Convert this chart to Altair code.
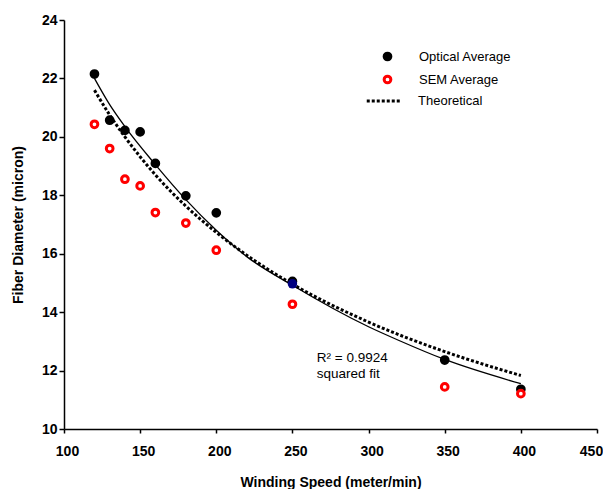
import altair as alt
import pandas as pd

# ---- data ----
speed = [120, 130, 140, 150, 160, 180, 200, 250, 350, 400]
optical = [22.15, 20.57, 20.22, 20.17, 19.09, 17.98, 17.40, 15.05, 12.36, 11.36]
sem = [20.43, 19.60, 18.55, 18.32, 17.41, 17.05, 16.12, 14.27, 11.44, 11.21]

fit_x = [120, 130, 140, 160, 180, 200, 220, 250, 300, 320, 350, 400]
fit_y = [22.0, 21.1, 20.35, 19.05, 17.85, 16.8, 15.9, 14.92, 13.5, 13.03, 12.38, 11.55]

theo_x = [120, 130, 140, 150, 160, 180, 200, 225, 250, 300, 350, 400]
theo_y = [21.6, 20.75, 20.0, 19.32, 18.7, 17.63, 16.73, 15.77, 14.96, 13.66, 12.65, 11.83]

blue_x = [250]
blue_y = [14.97]

note_x = [266, 266]
note_y = [12.28, 11.76]
note_text = ["R\u00b2 = 0.9924", "squared fit"]

x_ticks = [100, 150, 200, 250, 300, 350, 400, 450]
y_ticks = [10, 12, 14, 16, 18, 20, 22, 24]

FONT = "Liberation Sans"

pts = pd.DataFrame({
    "speed": speed * 2,
    "diam": optical + sem,
    "series": ["Optical Average"] * len(speed) + ["SEM Average"] * len(speed),
})
fit_df = pd.DataFrame({"speed": fit_x, "diam": fit_y})
theo_df = pd.DataFrame({"speed": theo_x, "diam": theo_y, "name": ["Theoretical"] * len(theo_x)})
blue_df = pd.DataFrame({"speed": blue_x, "diam": blue_y})
note_df = pd.DataFrame({"speed": note_x, "diam": note_y, "t": note_text})

xs = alt.Scale(domain=[100, 450], nice=False, zero=False)
ys = alt.Scale(domain=[10, 24], nice=False, zero=False)

x_enc = alt.X("speed:Q", scale=xs, axis=alt.Axis(
    values=x_ticks, title="Winding Speed (meter/min)", tickSize=4, labelFlush=False,
    labelPadding=11,
    labelOffset={"condition": {"test": "datum.value == 450", "value": -6}, "value": 3},
    titlePadding=17))
y_enc = alt.Y("diam:Q", scale=ys, axis=alt.Axis(
    values=y_ticks, title="Fiber Diameter (micron)", tickSize=5, labelFlush=False,
    labelPadding=2, titlePadding=16))

pt_legend = alt.Legend(
    title=None, orient="none", legendX=317, legendY=30,
    symbolType="circle", symbolSize=45, symbolStrokeWidth=3,
    labelFont=FONT, labelFontSize=13, labelColor="black",
    labelOffset=25, rowPadding=4)

dom = ["Optical Average", "SEM Average"]
points = alt.Chart(pts).mark_point(shape="circle", size=45, strokeWidth=3, opacity=1).encode(
    x=x_enc, y=y_enc,
    fill=alt.Fill("series:N", scale=alt.Scale(domain=dom, range=["black", "white"]), legend=pt_legend),
    stroke=alt.Stroke("series:N", scale=alt.Scale(domain=dom, range=["black", "#ff0000"]), legend=pt_legend),
)

fit_line = alt.Chart(fit_df).mark_line(color="black", strokeWidth=1.3, interpolate="monotone").encode(
    x="speed:Q", y="diam:Q")

theo_line = alt.Chart(theo_df).mark_line(color="black", strokeWidth=3, interpolate="monotone").encode(
    x="speed:Q", y="diam:Q",
    strokeDash=alt.StrokeDash("name:N", scale=alt.Scale(domain=["Theoretical"], range=[[3, 2]]),
                              legend=alt.Legend(title=None, orient="none", legendX=301, legendY=62,
                                                symbolType="stroke", symbolSize=1190,
                                                symbolStrokeWidth=3, symbolStrokeColor="black",
                                                labelFont=FONT, labelFontSize=13, labelColor="black",
                                                labelOffset=15)),
)

blue = alt.Chart(blue_df).mark_circle(color="#000080", size=90, opacity=1).encode(x="speed:Q", y="diam:Q")

notes = alt.Chart(note_df).mark_text(align="left", baseline="alphabetic", font=FONT, fontSize=13.5,
                                     color="black").encode(x="speed:Q", y="diam:Q", text="t:N")

chart = alt.layer(theo_line, fit_line, points, blue, notes).resolve_legend(
    fill="shared", stroke="shared"
).properties(
    width=533, height=409,
    padding={"left": 3, "top": 5, "right": 0, "bottom": 0},
    background="white",
).configure_view(stroke=None).configure_axis(
    grid=False, domainColor="black", tickColor="black", domainWidth=1.5, tickWidth=1.5,
    labelFont=FONT, labelFontSize=14, labelFontWeight="bold", labelColor="black",
    titleFont=FONT, titleFontSize=14, titleFontWeight="bold", titleColor="black",
)

chart.save("out.html", embed_options={"renderer": "svg", "actions": False})
